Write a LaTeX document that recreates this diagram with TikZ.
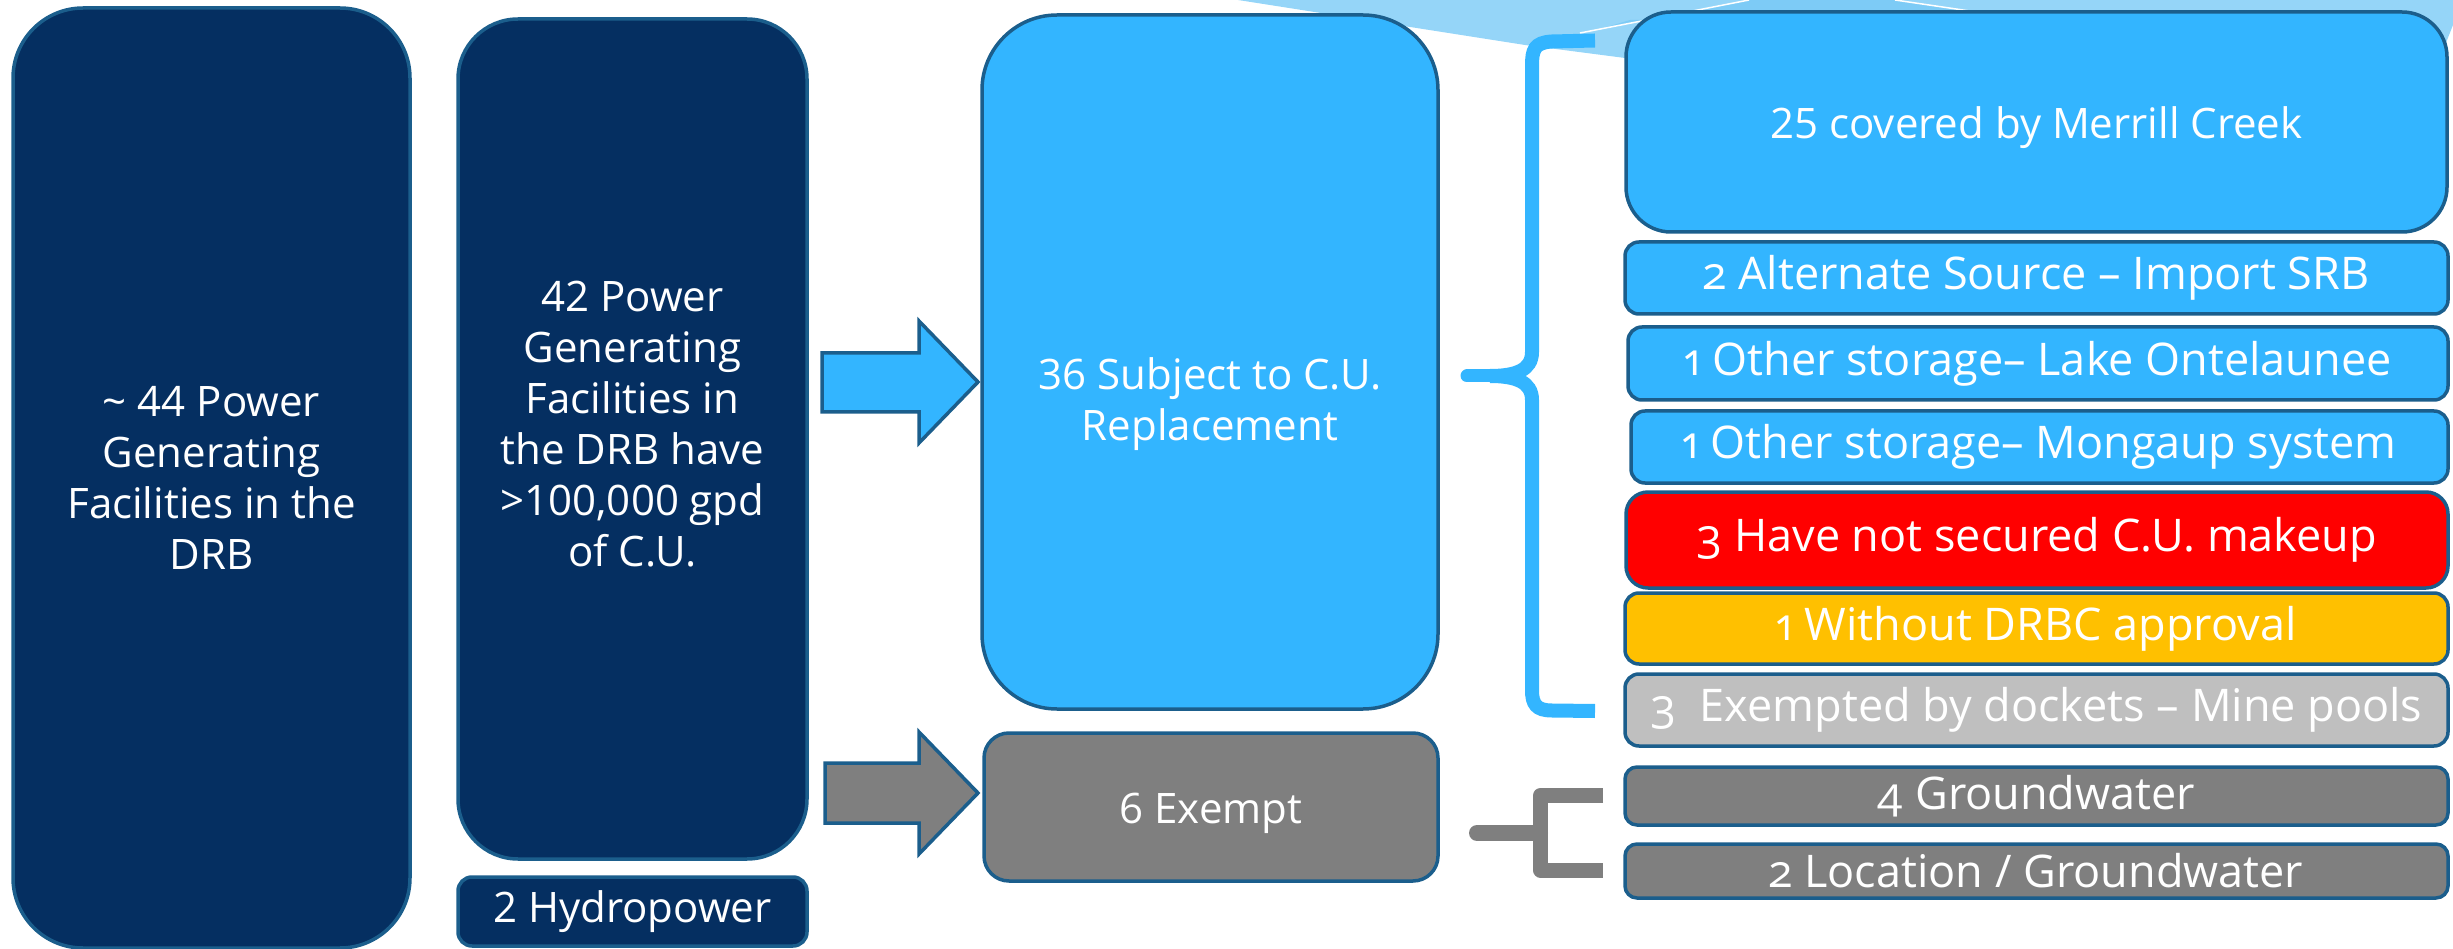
\documentclass[tikz,border=0pt]{standalone}
\usepackage{fontspec}
\newfontfamily\mainsans{Open Sans}
\newfontfamily\rowsans[Numbers=OldStyle]{Open Sans}

\definecolor{navy}{HTML}{052F61}
\definecolor{edge}{HTML}{1B5E8C}
\definecolor{sky}{HTML}{33B5FF}
\definecolor{slate}{HTML}{7F7F7F}
\definecolor{silver}{HTML}{BFBFBF}
\definecolor{alert}{HTML}{FF0000}
\definecolor{amber}{HTML}{FFC000}
\definecolor{haze}{HTML}{95D5F8}
\definecolor{hazedark}{HTML}{7DCBF6}

\begin{document}
\begin{tikzpicture}[x=1pt,y=-1pt,
  card/.style={rectangle, draw=edge, line width=3.5pt, text=white, align=center, inner sep=0pt},
  bigtext/.style={font=\mainsans\fontsize{42}{51}\selectfont},
  caption/.style={text=white, align=center, inner sep=0pt, bigtext},
  smalltext/.style={font=\rowsans\fontsize{45}{52}\selectfont},
  rowbox/.style={card, smalltext, minimum width=823pt, rounded corners=14pt},
  blockarrow/.style={draw=edge, line width=3.5pt, line join=miter},
]
\useasboundingbox (0,0) rectangle (2453,949);

% faint backdrop along the top edge
\fill[haze] (1238,0) -- (1525,45) -- (1625,58) -- (2440,58) -- (2453,25) -- (2453,0) -- cycle;
\fill[hazedark] (1600,29) -- (1749,0) -- (1895,0) -- (1985,14) -- (1630,20) -- cycle;
\draw[white, line width=1.5pt] (1580,33) -- (1749,0);
\draw[white, line width=1.5pt] (1895,0) -- (1990,14);

% left column
\node[card, fill=navy, bigtext, minimum width=397pt, minimum height=940pt, rounded corners=70pt]
  (total) at (211.5,478) {\textasciitilde{} 44 Power\\Generating\\Facilities in the\\DRB};
\node[card, fill=navy, minimum width=349pt, minimum height=840pt, rounded corners=60pt]
  (large) at (632.5,439) {};
\node[caption] (large-text) at ([yshift=15pt]large.center)
  {42 Power\\Generating\\Facilities in\\the DRB have\\>100,000 gpd\\of C.U.};
\node[card, fill=navy, bigtext, minimum width=349pt, minimum height=69pt, rounded corners=14pt]
  (hydro) at (632.5,911.5) {2 Hydropower};

% middle column
\node[card, fill=sky, minimum width=456pt, minimum height=694pt, rounded corners=75pt]
  (subject) at (1210,362) {};
\node[caption] (subject-text) at ([yshift=-42pt]subject.center) {36 Subject to C.U.\\Replacement};
\node[card, fill=slate, minimum width=454pt, minimum height=148pt, rounded corners=25pt]
  (exempt) at (1211,807) {};
\node[caption] (exempt-text) at ([yshift=-6pt]exempt.center) {6 Exempt};

% block arrows
\draw[blockarrow, fill=sky] (822,353) -- (919,353) -- (919,321) -- (978,382) -- (919,443) -- (919,412) -- (822,412) -- cycle;
\draw[blockarrow, fill=slate] (825,763) -- (919,763) -- (919,732) -- (978,793) -- (919,854) -- (919,823) -- (825,823) -- cycle;

% brace grouping the replacement outcomes
\draw[sky, line width=14pt]
  (1595,40.5) -- (1552,41.5) .. controls (1534,42.5) and (1532,50) .. (1532,66)
  -- (1532,352) .. controls (1532,370) and (1516,376) .. (1490,376);
\draw[sky, line width=14pt]
  (1490,376) .. controls (1516,376) and (1532,382) .. (1532,400)
  -- (1532,690) .. controls (1532,704) and (1536,710.5) .. (1552,710.5) -- (1595,711);
\draw[sky, line width=13pt, line cap=round] (1467,376) -- (1495,376);

% bracket grouping the exemptions
\draw[slate, line width=16pt, line cap=round] (1477,833) -- (1540,833);
\draw[slate, line width=15pt, line join=round] (1603,795.5) -- (1540.5,795.5) -- (1540.5,870) -- (1603,870);

% right column
\node[card, fill=sky, minimum width=821pt, minimum height=220pt, rounded corners=45pt]
  (merrill) at (2036.5,122) {};
\node[caption] (merrill-text) at ([yshift=-6pt]merrill.center) {25 covered by Merrill Creek};
\node[rowbox, fill=sky, minimum height=72pt] (srb) at (2036.5,278) {2 Alternate Source – Import SRB};
\node[rowbox, fill=sky, minimum height=73pt, minimum width=820pt] (ontelaunee) at (2038,363.5) {1 Other storage– Lake Ontelaunee};
\node[rowbox, fill=sky, minimum height=72pt, minimum width=817pt] (mongaup) at (2039.5,447) {1 Other storage– Mongaup system};
\node[rowbox, fill=alert, minimum height=96pt, minimum width=822pt, rounded corners=22pt] (makeup) at (2037,540) {3 Have not secured C.U. makeup};
\node[rowbox, fill=amber, minimum height=71pt] (approval) at (2036.5,628.5) {1 Without DRBC approval};
\node[rowbox, fill=silver, minimum height=72pt] (mine) at (2036.5,710) {3\ \ Exempted by dockets – Mine pools};
\node[rowbox, fill=slate, minimum height=58pt, rounded corners=12pt] (ground) at (2036.5,796) {4 Groundwater};
\node[rowbox, fill=slate, minimum height=54pt, rounded corners=12pt] (location) at (2036.5,871) {2 Location / Groundwater};
\end{tikzpicture}
\end{document}
